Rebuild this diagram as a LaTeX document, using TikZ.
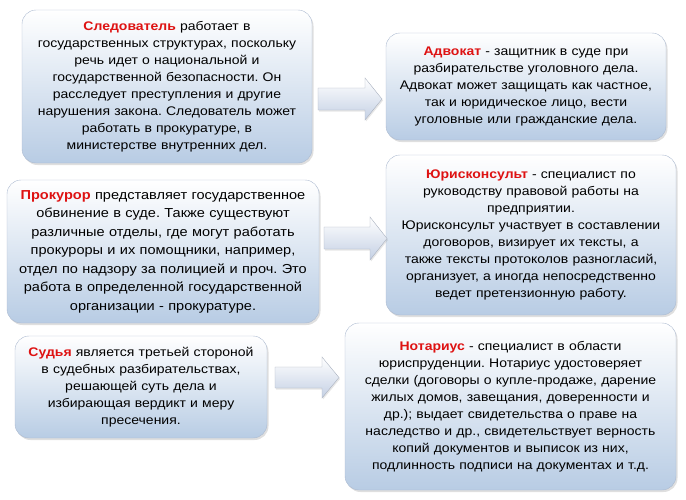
\documentclass[tikz,border=0pt]{standalone}
\usepackage{fontspec}
\setmainfont[FakeStretch=1.12]{Liberation Sans}
\usepackage{tikz}
\usetikzlibrary{shadows}
\frenchspacing

\definecolor{cardblue}{RGB}{184,204,228}
\definecolor{cardline}{RGB}{172,186,208}
\definecolor{arrowblue}{RGB}{196,208,228}
\definecolor{arrowline}{RGB}{170,178,192}
\definecolor{rolered}{RGB}{222,18,18}
\newcommand{\role}[1]{\textcolor{rolered}{\textbf{#1}}}

\begin{document}
\begin{tikzpicture}[x=1pt, y=-1pt,
		card/.style={draw=cardline, rounded corners=14pt, top color=white, bottom color=cardblue,
			drop shadow={opacity=0.25, shadow xshift=1.5pt, shadow yshift=-2pt},
			align=center, inner sep=3pt, font=\fontsize{12.5}{17}\selectfont},
		blkarrow/.style={draw=arrowline, top color=white, bottom color=arrowblue,
			drop shadow={opacity=0.2, shadow xshift=1pt, shadow yshift=-1.5pt}}]
		
		\useasboundingbox (0,0) rectangle (686,499);
		
		% Left column
		\node[card, minimum width=290pt, minimum height=153pt, text width=284pt] (sled) at (167,86.5)
		{\role{Следователь} работает в\\
			государственных структурах, поскольку\\
			речь идет о национальной и\\
			государственной безопасности. Он\\
			расследует преступления и другие\\
			нарушения закона. Следователь может\\
			работать в прокуратуре, в\\
			министерстве внутренних дел.};
		
		\node[card, minimum width=312pt, minimum height=143pt, text width=306pt,
		font=\fontsize{13}{18.5}\selectfont] (prok) at (163,251.5)
		{\role{Прокурор} представляет государственное\\
			обвинение в суде. Также существуют\\
			различные отделы, где могут работать\\
			прокуроры и их помощники, например,\\
			отдел по надзору за полицией и проч. Это\\
			работа в определенной государственной\\
			организации - прокуратуре.};
		
		\node[card, minimum width=252pt, minimum height=102pt, text width=246pt] (sud) at (141,387)
		{\role{Судья} является третьей стороной\\
			в судебных разбирательствах,\\
			решающей суть дела и\\
			избирающая вердикт и меру\\
			пресечения.};
		
		% Right column
		\node[card, minimum width=280pt, minimum height=107pt, text width=274pt] (adv) at (526,86.5)
		{\role{Адвокат} - защитник в суде при\\
			разбирательстве уголовного дела.\\
			Адвокат может защищать как частное,\\
			так и юридическое лицо, вести\\
			уголовные или гражданские дела.};
		
		\node[card, minimum width=290pt, minimum height=160pt, text width=284pt] (jur) at (531,235)
		{\role{Юрисконсульт} - специалист по\\
			руководству правовой работы на\\
			предприятии.\\
			Юрисконсульт участвует в составлении\\
			договоров, визирует их тексты, а\\
			также тексты протоколов разногласий,\\
			организует, а иногда непосредственно\\
			ведет претензионную работу.};
		
		\node[card, minimum width=331pt, minimum height=167pt, text width=325pt] (not) at (510.5,406.5)
		{\role{Нотариус} - специалист в области\\
			юриспруденции. Нотариус удостоверяет\\
			сделки (договоры о купле-продаже, дарение\\
			жилых домов, завещания, доверенности и\\
			др.); выдает свидетельства о праве на\\
			наследство и др., свидетельствует верность\\
			копий документов и выписок из них,\\
			подлинность подписи на документах и т.д.};
		
		% Block arrows
		\draw[blkarrow] (318,88) -- (365,88) -- (365,78) -- (382,99) -- (365,120) -- (365,110) -- (318,110) -- cycle;
		\draw[blkarrow] (324,227) -- (370,227) -- (370,217) -- (387,238.5) -- (370,260) -- (370,249) -- (324,249) -- cycle;
		\draw[blkarrow] (275,367) -- (322,367) -- (322,357) -- (339,377.5) -- (322,398) -- (322,388) -- (275,388) -- cycle;
		
	\end{tikzpicture}
\end{document}
